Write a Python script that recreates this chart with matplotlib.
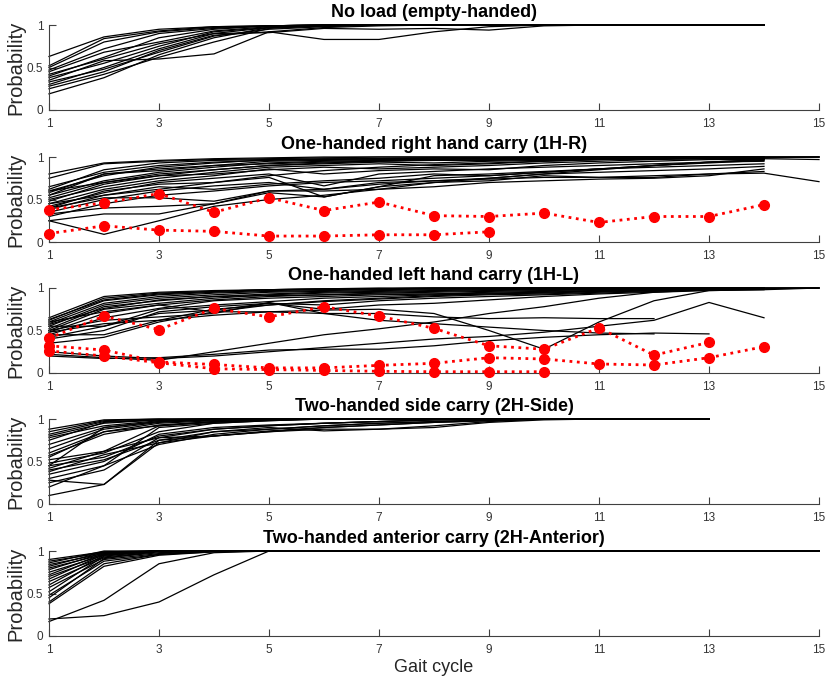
import matplotlib
matplotlib.use("Agg")
import matplotlib.pyplot as plt
import numpy as np

plt.rcParams['font.family'] = ['Liberation Sans', 'DejaVu Sans']

titles = ["No load (empty-handed)",
          "One-handed right hand carry (1H-R)",
          "One-handed left hand carry (1H-L)",
          "Two-handed side carry (2H-Side)",
          "Two-handed anterior carry (2H-Anterior)"]

x_ticks = [1, 3, 5, 7, 9, 11, 13, 15]
y_ticks = [0, 0.5, 1]
y_ticklabels = ["0", "0.5", "1"]

# ---- Panel 1: no load (black lines only, gait cycles 1..14)
noload = [
    [0.63, 0.86, 0.95, 0.98, 0.99] + [1.0] * 9,
    [0.52, 0.84, 0.93, 0.98, 0.99] + [1.0] * 9,
    [0.50, 0.80, 0.92, 0.97, 0.99] + [1.0] * 9,
    [0.47, 0.72, 0.90, 0.96, 0.99] + [1.0] * 9,
    [0.45, 0.68, 0.80, 0.93, 0.98, 0.99] + [1.0] * 8,
    [0.42, 0.60, 0.78, 0.90, 0.97, 0.99] + [1.0] * 8,
    [0.40, 0.62, 0.85, 0.95, 0.99] + [1.0] * 9,
    [0.38, 0.55, 0.75, 0.92, 0.97, 0.99] + [1.0] * 8,
    [0.35, 0.58, 0.60, 0.66, 0.92, 0.83, 0.83, 0.92, 0.98] + [1.0] * 5,
    [0.30, 0.50, 0.72, 0.90, 0.91, 0.96, 0.95, 0.96, 0.94, 0.99] + [1.0] * 4,
    [0.28, 0.45, 0.70, 0.88, 0.92, 0.97, 0.99] + [1.0] * 7,
    [0.25, 0.42, 0.62, 0.80, 0.96, 0.99] + [1.0] * 8,
    [0.19, 0.38, 0.65, 0.85, 0.97] + [1.0] * 9,
    [0.33, 0.48, 0.68, 0.87, 0.95, 0.98] + [1.0] * 8,
]

# ---- Panel 2: one-handed right hand carry
right_black = [
    [0.80, 0.93, 0.96, 0.98, 0.99] + [1.0] * 10,
    [0.75, 0.92, 0.95, 0.97, 0.98, 0.99] + [1.0] * 9,
    [0.62, 0.85, 0.93, 0.96, 0.97, 0.98, 0.98, 0.99, 0.99, 0.99, 1.0, 1.0, 1.0, 1.0],
    [0.60, 0.78, 0.88, 0.93, 0.97, 0.97, 0.98, 0.98, 0.98, 0.98, 0.98, 0.98, 0.98, 0.98, 0.97],
    [0.58, 0.80, 0.84, 0.90, 0.95, 0.96, 0.97, 0.97, 0.98, 0.98, 0.98, 0.98, 0.98, 0.98],
    [0.55, 0.72, 0.82, 0.88, 0.93, 0.95, 0.96, 0.96, 0.97, 0.97, 0.98, 0.98, 0.99, 0.99],
    [0.52, 0.70, 0.80, 0.85, 0.90, 0.92, 0.94, 0.93, 0.95, 0.96, 0.97, 0.98, 0.99, 1.0],
    [0.50, 0.65, 0.75, 0.82, 0.88, 0.90, 0.92, 0.90, 0.92, 0.95, 0.97, 0.98, 0.99, 0.99],
    [0.48, 0.68, 0.78, 0.80, 0.85, 0.88, 0.86, 0.88, 0.90, 0.93, 0.95, 0.97, 0.98, 0.98],
    [0.45, 0.62, 0.72, 0.78, 0.86, 0.80, 0.84, 0.86, 0.85, 0.90, 0.93, 0.95, 0.97, 0.97],
    [0.42, 0.58, 0.70, 0.75, 0.80, 0.66, 0.80, 0.83, 0.86, 0.88, 0.90, 0.92, 0.94, 0.95],
    [0.40, 0.60, 0.68, 0.70, 0.76, 0.53, 0.65, 0.78, 0.80, 0.83, 0.86, 0.88, 0.90, 0.92],
    [0.38, 0.55, 0.65, 0.62, 0.68, 0.72, 0.75, 0.80, 0.78, 0.82, 0.86, 0.90, 0.93, 0.96],
    [0.35, 0.50, 0.60, 0.66, 0.70, 0.62, 0.68, 0.72, 0.75, 0.80, 0.85, 0.90, 0.94, 0.97],
    [0.40, 0.52, 0.52, 0.48, 0.60, 0.60, 0.62, 0.70, 0.75, 0.80, 0.82, 0.84, 0.86, 0.89],
    [0.33, 0.40, 0.42, 0.45, 0.58, 0.53, 0.65, 0.70, 0.72, 0.78, 0.76, 0.78, 0.80, 0.83],
    [0.25, 0.33, 0.33, 0.45, 0.60, 0.62, 0.70, 0.72, 0.74, 0.76, 0.76, 0.76, 0.80, 0.81, 0.71],
    [0.25, 0.09, 0.25, 0.42, 0.50, 0.55, 0.62, 0.65, 0.70, 0.72, 0.74, 0.75, 0.78, 0.86],
    [0.30, 0.45, 0.55, 0.60, 0.66, 0.70, 0.72, 0.75, 0.78, 0.82, 0.86, 0.90, 0.94, 0.97],
    [0.55, 0.80, 0.86, 0.90, 0.92, 0.94, 0.95, 0.96, 0.96, 0.97, 0.98, 0.98, 0.99, 0.99, 1.0],
    [0.60, 0.70, 0.78, 0.85, 0.90, 0.93, 0.95, 0.97, 0.98, 0.99, 1.0, 1.0, 1.0],
    [0.45, 0.55, 0.62, 0.70, 0.78, 0.84, 0.88, 0.91, 0.93, 0.95, 0.97, 0.98],
    [0.65, 0.82, 0.90, 0.94, 0.96, 0.97, 0.98, 0.99, 0.99, 1.0, 1.0, 1.0, 1.0, 1.0, 1.0],
]
right_red = [
    [0.38, 0.46, 0.57, 0.35, 0.52, 0.37, 0.47, 0.31, 0.30, 0.34, 0.23, 0.30, 0.30, 0.44],
    [0.10, 0.19, 0.14, 0.125, 0.07, 0.07, 0.085, 0.085, 0.12],
]

# ---- Panel 3: one-handed left hand carry
left_black = [
    [0.65, 0.90, 0.95, 0.97, 0.98, 0.99] + [1.0] * 9,
    [0.62, 0.88, 0.94, 0.96, 0.98, 0.99, 0.99] + [1.0] * 8,
    [0.60, 0.85, 0.92, 0.95, 0.97, 0.98, 0.99, 0.99] + [1.0] * 6,
    [0.58, 0.82, 0.90, 0.94, 0.96, 0.97, 0.98, 0.99, 0.99] + [1.0] * 5,
    [0.55, 0.80, 0.88, 0.92, 0.95, 0.96, 0.97, 0.98, 0.98, 0.99, 0.99, 1.0, 1.0, 1.0],
    [0.52, 0.78, 0.85, 0.90, 0.93, 0.95, 0.96, 0.97, 0.98, 0.98, 0.99, 0.99, 1.0, 1.0],
    [0.50, 0.75, 0.82, 0.88, 0.92, 0.94, 0.95, 0.96, 0.97, 0.98, 0.98, 0.99, 0.99, 1.0],
    [0.48, 0.70, 0.80, 0.86, 0.90, 0.92, 0.94, 0.95, 0.96, 0.97, 0.98, 0.98, 0.99, 0.99],
    [0.45, 0.65, 0.76, 0.85, 0.88, 0.90, 0.92, 0.93, 0.95, 0.96, 0.97, 0.98, 0.98],
    [0.42, 0.55, 0.75, 0.80, 0.84, 0.88, 0.90, 0.92, 0.93, 0.94, 0.96, 0.97, 0.98, 0.99],
    [0.40, 0.50, 0.72, 0.78, 0.82, 0.80, 0.85, 0.88, 0.90, 0.92, 0.94, 0.96, 0.98, 0.99, 1.0],
    [0.45, 0.45, 0.62, 0.75, 0.80, 0.84, 0.87, 0.90, 0.92, 0.93, 0.95, 0.97, 0.98],
    [0.55, 0.55, 0.70, 0.74, 0.82, 0.75, 0.80, 0.82, 0.86, 0.90, 0.93, 0.95, 0.97, 0.98],
    [0.60, 0.72, 0.80, 0.72, 0.72, 0.74, 0.75, 0.70, 0.50, 0.28, 0.60, 0.85, 0.97, 0.98, 1.0],
    [0.50, 0.62, 0.66, 0.70, 0.83, 0.70, 0.62, 0.58, 0.54, 0.50, 0.47, 0.46],
    [0.48, 0.58, 0.62, 0.68, 0.72, 0.70, 0.70, 0.66, 0.64, 0.65, 0.64, 0.64],
    [0.22, 0.18, 0.15, 0.25, 0.35, 0.45, 0.52, 0.60, 0.70, 0.78, 0.88, 0.95, 0.98, 1.0],
    [0.25, 0.20, 0.17, 0.20, 0.25, 0.30, 0.35, 0.40, 0.43, 0.48, 0.55, 0.62, 0.83, 0.65],
    [0.20, 0.17, 0.18, 0.22, 0.27, 0.28, 0.28, 0.32, 0.38, 0.42, 0.45, 0.47, 0.46],
    [0.63, 0.86, 0.93, 0.96, 0.98, 0.99, 0.99, 1.0, 1.0, 1.0, 1.0, 1.0, 1.0, 1.0, 1.0],
    [0.57, 0.76, 0.86, 0.90, 0.91, 0.92, 0.93, 0.93, 0.94, 0.95, 0.96, 0.97, 0.99, 1.0],
    [0.35, 0.42, 0.60, 0.72, 0.80, 0.85, 0.88, 0.91, 0.93, 0.95, 0.97, 0.98, 0.99, 1.0],
]
left_red = [
    [0.41, 0.67, 0.51, 0.76, 0.66, 0.78, 0.67, 0.525, 0.32, 0.28, 0.53, 0.21, 0.36],
    [0.32, 0.27, 0.13, 0.10, 0.06, 0.06, 0.09, 0.114, 0.18, 0.165, 0.106, 0.094, 0.18, 0.31],
    [0.26, 0.20, 0.12, 0.05, 0.04, 0.03, 0.02, 0.015, 0.015, 0.015],
]

# ---- Panel 4: two-handed side carry (gait cycles 1..13)
side = [
    [0.88, 0.99] + [1.0] * 11,
    [0.85, 0.98] + [1.0] * 11,
    [0.82, 0.97, 0.99] + [1.0] * 10,
    [0.80, 0.95, 0.99] + [1.0] * 10,
    [0.78, 0.92, 0.98, 0.99] + [1.0] * 9,
    [0.75, 0.96, 0.99] + [1.0] * 10,
    [0.70, 0.90, 0.97, 0.99] + [1.0] * 9,
    [0.65, 0.88, 0.96, 0.99] + [1.0] * 9,
    [0.60, 0.85, 0.95, 0.98] + [1.0] * 9,
    [0.57, 0.82, 0.93, 0.97, 0.99] + [1.0] * 8,
    [0.52, 0.62, 0.92, 0.96, 0.99] + [1.0] * 8,
    [0.48, 0.60, 0.85, 0.95, 0.98] + [1.0] * 8,
    [0.45, 0.55, 0.80, 0.88, 0.92, 0.95, 0.97, 0.99] + [1.0] * 5,
    [0.42, 0.62, 0.78, 0.80, 0.85, 0.88, 0.88, 0.90, 0.96, 0.99] + [1.0] * 3,
    [0.40, 0.52, 0.75, 0.85, 0.90, 0.86, 0.88, 0.92, 0.97] + [1.0] * 4,
    [0.38, 0.58, 0.72, 0.85, 0.88, 0.92, 0.95, 0.97, 0.99] + [1.0] * 4,
    [0.35, 0.50, 0.82, 0.90, 0.93, 0.95, 0.97, 0.99] + [1.0] * 5,
    [0.30, 0.45, 0.70, 0.82, 0.88, 0.92, 0.95, 0.97, 0.99] + [1.0] * 4,
    [0.28, 0.23, 0.75, 0.80, 0.86, 0.90, 0.93, 0.96, 0.98] + [1.0] * 4,
    [0.25, 0.40, 0.78, 0.88, 0.92, 0.95, 0.97, 0.99] + [1.0] * 5,
    [0.20, 0.45, 0.90, 0.95, 0.98] + [1.0] * 8,
    [0.10, 0.23, 0.72, 0.80, 0.85, 0.90, 0.93, 0.96, 0.98] + [1.0] * 4,
    [0.45, 0.90, 0.97] + [1.0] * 10,
    [0.55, 0.85, 0.92, 0.97, 0.99] + [1.0] * 8,
]

# ---- Panel 5: two-handed anterior carry (gait cycles 1..15)
anterior = [
    [0.90, 0.99] + [1.0] * 13,
    [0.88, 0.98] + [1.0] * 13,
    [0.86, 1.0] + [1.0] * 13,
    [0.84, 0.97] + [1.0] * 13,
    [0.82, 0.99] + [1.0] * 13,
    [0.80, 0.96] + [1.0] * 13,
    [0.78, 0.98] + [1.0] * 13,
    [0.75, 0.95] + [1.0] * 13,
    [0.72, 0.97] + [1.0] * 13,
    [0.70, 0.93, 0.99] + [1.0] * 12,
    [0.67, 0.96] + [1.0] * 13,
    [0.64, 0.92, 0.98] + [1.0] * 12,
    [0.60, 0.95] + [1.0] * 13,
    [0.57, 0.90, 0.97] + [1.0] * 12,
    [0.52, 0.94] + [1.0] * 13,
    [0.48, 0.88, 0.96, 0.99] + [1.0] * 11,
    [0.45, 0.91] + [1.0] * 13,
    [0.40, 0.85, 0.96] + [1.0] * 12,
    [0.38, 0.82, 0.95, 0.99] + [1.0] * 11,
    [0.20, 0.24, 0.40, 0.72, 1.0] + [1.0] * 10,
    [0.17, 0.42, 0.85, 0.98, 1.0] + [1.0] * 10,
]

panels = [
    (noload, []),
    (right_black, right_red),
    (left_black, left_red),
    (side, []),
    (anterior, []),
]

W, H = 831, 684
fig = plt.figure(figsize=(W / 100, H / 100), dpi=100)
left_px, right_px = 49, 819
tops_px = [25, 157, 288, 419, 551]
h_px = 85

axis_col = '#404040'
text_col = '#262626'

for i, (title, (blk, red)) in enumerate(zip(titles, panels)):
    top = tops_px[i]
    ax = fig.add_axes([left_px / W, 1 - (top + h_px) / H,
                       (right_px - left_px) / W, h_px / H])
    for s in blk:
        xs = np.arange(1, len(s) + 1)
        ax.plot(xs, s, color='black', lw=0.9, clip_on=False, zorder=2)
    for s in red:
        xs = np.arange(1, len(s) + 1)
        ax.plot(xs, s, color='#ff0000', ls=':', lw=2.0, marker='o',
                ms=7, mec='#ff0000', mfc='#ff0000', clip_on=False, zorder=3)
    ax.set_xlim(1, 15)
    ax.set_ylim(0, 1)
    ax.set_xticks(x_ticks)
    ax.set_xticklabels([str(t) for t in x_ticks])
    ax.set_yticks(y_ticks)
    ax.set_yticklabels(y_ticklabels)
    for sp in ['top', 'right']:
        ax.spines[sp].set_visible(False)
    for sp in ['left', 'bottom']:
        ax.spines[sp].set_color(axis_col)
        ax.spines[sp].set_linewidth(0.8)
    ax.tick_params(direction='in', length=5, width=0.8, color=axis_col,
                   labelsize=8.5, labelcolor='#333333')
    ax.tick_params(axis='x', pad=6)
    ax.tick_params(axis='y', pad=4)
    ax.set_title(title, fontsize=13, fontweight='bold', pad=5.5, color='black')
    ax.set_ylabel("Probability", fontsize=14.5, color=text_col)
    ax.yaxis.set_label_coords(-0.031, 0.5)

fig.text(434 / W, 1 - 668 / H, "Gait cycle", fontsize=13, color=text_col,
         ha='center', va='center')

fig.savefig("out.png", dpi=100)
